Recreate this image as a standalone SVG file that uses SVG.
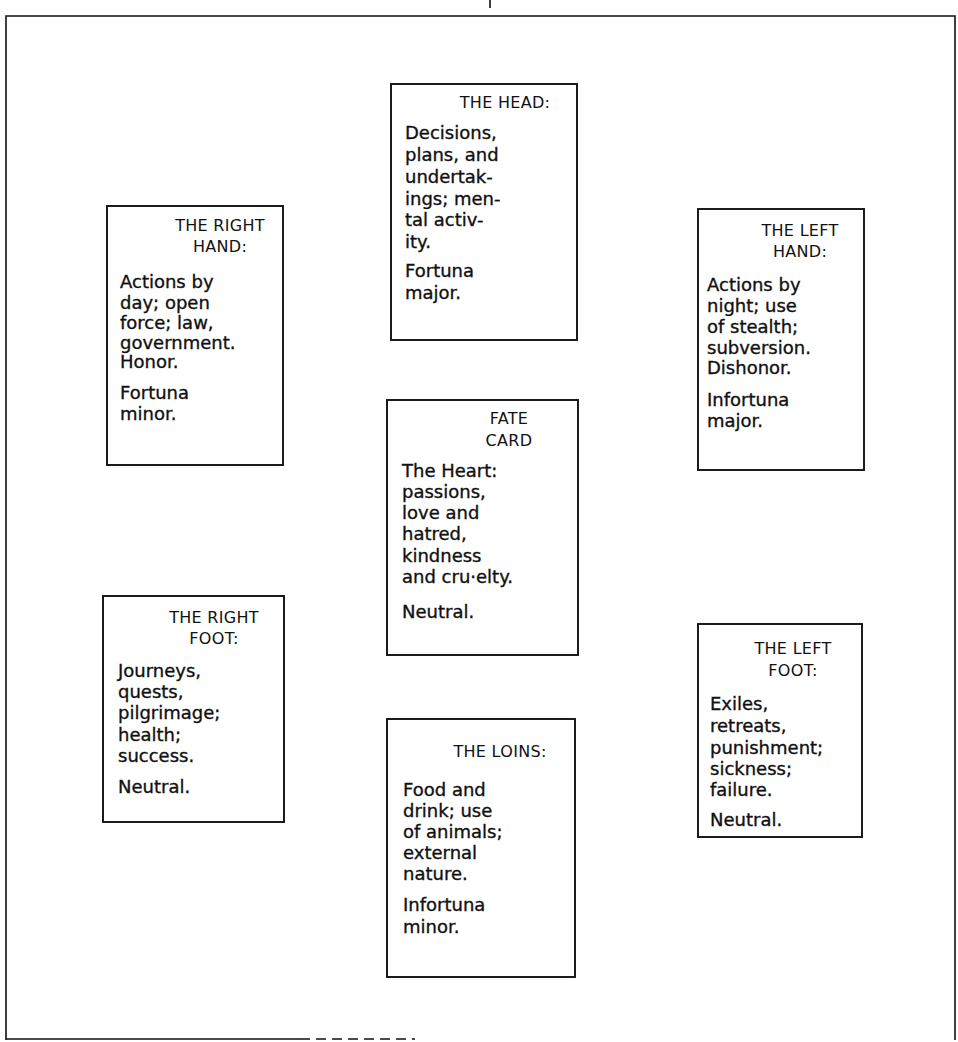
<svg xmlns="http://www.w3.org/2000/svg" width="958" height="1042" viewBox="0 0 958 1042">
<style>
.box{fill:#fff;stroke:#111;stroke-width:1.9}
.hd{font-family:"DejaVu Sans","Liberation Sans",sans-serif;font-size:16px;fill:#111;text-anchor:middle;letter-spacing:0.3px}
.bd{font-family:"DejaVu Sans","Liberation Sans",sans-serif;font-size:18px;fill:#111;stroke:#111;stroke-width:0.35}
.frame{fill:none;stroke:#111;stroke-width:1.6}
</style>
<rect width="958" height="1042" fill="#fff"/>
<g id="frame">
<path class="frame" d="M6,1040 L6,16 L955,16 L955,1040"/>
<path class="frame" d="M6,1039 L300,1039"/>
<path class="frame" d="M300,1039 L415,1039" stroke-dasharray="10,6"/>
<path class="frame" d="M490,0 L490,8"/>
</g>
<g id="connectors"></g>
<g id="head">
<rect class="box" x="391" y="84" width="186" height="256"/>
<text class="hd" x="505" y="108">THE HEAD:</text>
<text class="bd"><tspan x="405" y="139">Decisions,</tspan><tspan x="405" y="161">plans, and</tspan><tspan x="405" y="183">undertak-</tspan><tspan x="405" y="205">ings; men-</tspan><tspan x="405" y="226">tal activ-</tspan><tspan x="405" y="248">ity.</tspan><tspan x="405" y="277">Fortuna</tspan><tspan x="405" y="299">major.</tspan></text>
</g>
<g id="right-hand">
<rect class="box" x="107" y="206" width="176" height="259"/>
<text class="hd"><tspan x="220" y="231">THE RIGHT</tspan><tspan x="220" y="252">HAND:</tspan></text>
<text class="bd"><tspan x="120" y="288">Actions by</tspan><tspan x="120" y="309">day; open</tspan><tspan x="120" y="329">force; law,</tspan><tspan x="120" y="349">government.</tspan><tspan x="120" y="368">Honor.</tspan><tspan x="120" y="399">Fortuna</tspan><tspan x="120" y="420">minor.</tspan></text>
</g>
<g id="left-hand">
<rect class="box" x="698" y="209" width="166" height="261"/>
<text class="hd"><tspan x="800" y="236">THE LEFT</tspan><tspan x="800" y="257">HAND:</tspan></text>
<text class="bd"><tspan x="707" y="291">Actions by</tspan><tspan x="707" y="312">night; use</tspan><tspan x="707" y="333">of stealth;</tspan><tspan x="707" y="354">subversion.</tspan><tspan x="707" y="374">Dishonor.</tspan><tspan x="707" y="406">Infortuna</tspan><tspan x="707" y="427">major.</tspan></text>
</g>
<g id="fate-card">
<rect class="box" x="387" y="400" width="191" height="255"/>
<text class="hd"><tspan x="509" y="424">FATE</tspan><tspan x="509" y="446">CARD</tspan></text>
<text class="bd"><tspan x="402" y="477">The Heart:</tspan><tspan x="402" y="498">passions,</tspan><tspan x="402" y="519">love and</tspan><tspan x="402" y="540">hatred,</tspan><tspan x="402" y="562">kindness</tspan><tspan x="402" y="583">and cru·elty.</tspan><tspan x="402" y="618">Neutral.</tspan></text>
</g>
<g id="right-foot">
<rect class="box" x="103" y="596" width="181" height="226"/>
<text class="hd"><tspan x="214" y="623">THE RIGHT</tspan><tspan x="214" y="644">FOOT:</tspan></text>
<text class="bd"><tspan x="118" y="677">Journeys,</tspan><tspan x="118" y="698">quests,</tspan><tspan x="118" y="719">pilgrimage;</tspan><tspan x="118" y="741">health;</tspan><tspan x="118" y="762">success.</tspan><tspan x="118" y="793">Neutral.</tspan></text>
</g>
<g id="left-foot">
<rect class="box" x="698" y="624" width="164" height="213"/>
<text class="hd"><tspan x="793" y="654">THE LEFT</tspan><tspan x="793" y="676">FOOT:</tspan></text>
<text class="bd"><tspan x="710" y="710">Exiles,</tspan><tspan x="710" y="732">retreats,</tspan><tspan x="710" y="754">punishment;</tspan><tspan x="710" y="775">sickness;</tspan><tspan x="710" y="796">failure.</tspan><tspan x="710" y="826">Neutral.</tspan></text>
</g>
<g id="loins">
<rect class="box" x="387" y="719" width="188" height="258"/>
<text class="hd" x="500" y="757">THE LOINS:</text>
<text class="bd"><tspan x="403" y="796">Food and</tspan><tspan x="403" y="817">drink; use</tspan><tspan x="403" y="838">of animals;</tspan><tspan x="403" y="859">external</tspan><tspan x="403" y="880">nature.</tspan><tspan x="403" y="911">Infortuna</tspan><tspan x="403" y="933">minor.</tspan></text>
</g>
</svg>
